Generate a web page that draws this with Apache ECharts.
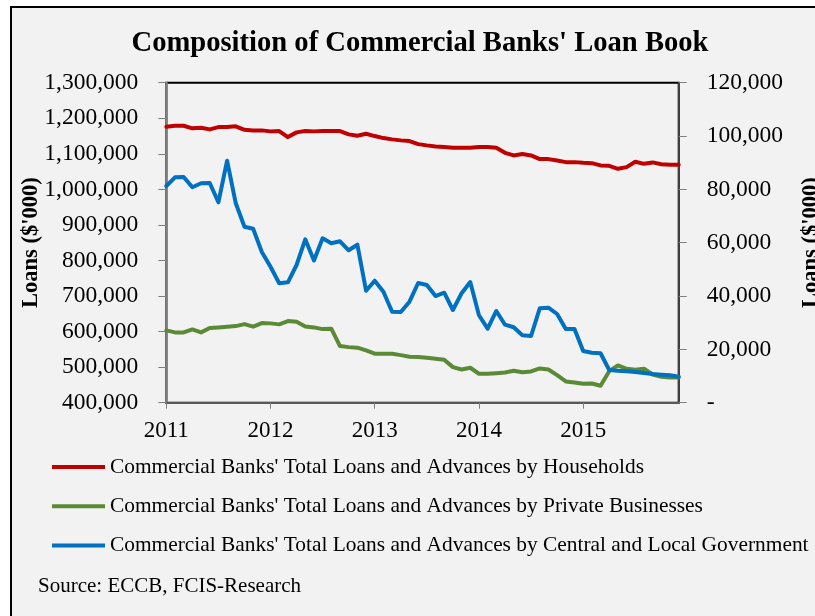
<!DOCTYPE html>
<html>
<head>
<meta charset="utf-8">
<title>Composition of Commercial Banks' Loan Book</title>
<script src="https://cdn.jsdelivr.net/npm/echarts@6/dist/echarts.min.js"></script>
<style>
  html, body { margin: 0; padding: 0; background: #ffffff; }
  #frame {
    position: absolute; left: 10px; top: 6px; width: 805px; height: 610px;
    border-left: 2px solid #000; border-top: 2px solid #000;
    background: #f2f2f2; box-sizing: border-box;
  }
  #chart { position: absolute; left: 0; top: 0; width: 815px; height: 616px; }
</style>
</head>
<body>
<div id="frame"></div>
<div id="chart"></div>
<script>
// Monthly observations, Jan 2011 – Dec 2015
const months = [
  '2011-01','2011-02','2011-03','2011-04','2011-05','2011-06','2011-07','2011-08','2011-09','2011-10','2011-11','2011-12',
  '2012-01','2012-02','2012-03','2012-04','2012-05','2012-06','2012-07','2012-08','2012-09','2012-10','2012-11','2012-12',
  '2013-01','2013-02','2013-03','2013-04','2013-05','2013-06','2013-07','2013-08','2013-09','2013-10','2013-11','2013-12',
  '2014-01','2014-02','2014-03','2014-04','2014-05','2014-06','2014-07','2014-08','2014-09','2014-10','2014-11','2014-12',
  '2015-01','2015-02','2015-03','2015-04','2015-05','2015-06','2015-07','2015-08','2015-09','2015-10','2015-11','2015-12'
];

// Loans to households ($'000, left axis)
const households = [
  1176000,1178900,1178900,1171600,1173200,1168700,1175200,1175200,1177200,1167600,1165900,1165900,
  1163100,1163900,1147000,1160300,1163900,1163100,1163900,1163900,1163900,1154600,1150700,1156300,
  1149900,1144200,1140600,1137800,1135800,1127300,1123700,1120800,1118900,1116900,1116900,1116900,
  1118900,1118900,1116900,1102800,1095500,1099200,1095500,1085100,1085100,1081400,1076600,1076600,
  1074600,1073800,1067300,1066200,1057800,1062500,1077500,1071800,1075800,1070800,1069000,1069000
];

// Loans to private businesses ($'000, left axis)
const privateBusinesses = [
  603400,597700,597700,606200,597700,609900,611800,613800,615500,621100,613800,623900,
  623100,620300,629600,627900,614600,611800,607000,608200,559200,556300,554700,547000,
  537800,537800,537800,533800,529300,528700,526500,523700,520800,500000,493500,498300,
  481400,481400,483100,485100,489900,485900,487900,496300,493500,477500,459700,456900,
  453200,454100,447600,488700,504800,495500,492700,495500,479400,473000,471000,471000
];

// Loans to central and local government ($'000, right axis)
const government = [
  81260,84530,84640,80780,82280,82390,75150,90750,74780,66000,65250,56510,
  51000,44780,45150,51640,61280,53330,61650,59780,60530,57150,59250,42000,
  45750,41630,34130,34010,37880,44890,44140,40010,41250,34760,41030,45260,
  32780,27750,34390,29250,28280,25280,25010,35400,35630,33260,27640,27640,
  19390,18750,18530,12260,12000,11780,11510,11140,10760,10500,10280,9750
];

const seriesNames = [
  "Commercial Banks' Total Loans and Advances by Households",
  "Commercial Banks' Total Loans and Advances by Private Businesses",
  "Commercial Banks' Total Loans and Advances by Central and Local Government"
];
const seriesColors = ['#c00000', '#5a8a35', '#0070c0'];

const leftAxis = { min: 400000, max: 1300000, interval: 100000 };
const rightAxis = { min: 0, max: 120000, interval: 20000 };

const serif = "'Liberation Serif', 'Times New Roman', serif";
const fmt = v => v.toLocaleString('en-US');

const chart = echarts.init(document.getElementById('chart'), null, { renderer: 'canvas' });

chart.setOption({
  backgroundColor: 'transparent',
  animation: false,
  title: {
    text: "Composition of Commercial Banks' Loan Book",
    left: 420, top: 29, padding: 0, textAlign: 'center',
    textStyle: { fontFamily: serif, fontSize: 28.6, fontWeight: 'bold', color: '#000' }
  },
  legend: {
    orient: 'vertical', left: 52, top: 456, padding: 0,
    icon: 'rect', itemWidth: 53, itemHeight: 4, itemGap: 17.3,
    data: seriesNames,
    textStyle: { fontFamily: serif, fontSize: 21.4, color: '#000', lineHeight: 22 }
  },
  graphic: [{
    type: 'text', left: 38, top: 576,
    style: { text: 'Source: ECCB, FCIS-Research', font: '21px ' + serif, fill: '#000' }
  }],
  grid: {
    left: 166.3, right: 136.3, top: 82.7, bottom: 213.3,
    outerBoundsMode: 'none', containLabel: false,
    show: true, borderColor: '#000', borderWidth: 2, backgroundColor: 'transparent'
  },
  xAxis: {
    type: 'category', data: months, boundaryGap: false,
    axisLine: { lineStyle: { color: '#595959', width: 2 } },
    axisTick: { show: true, length: 6, interval: i => i % 12 === 0, lineStyle: { color: '#7f7f7f', width: 1 } },
    axisLabel: {
      interval: i => i % 12 === 0, margin: 17,
      formatter: v => v.slice(0, 4),
      fontFamily: serif, fontSize: 23, color: '#000'
    },
    splitLine: { show: false }
  },
  yAxis: [{
    type: 'value', position: 'left', ...leftAxis,
    name: "Loans ($'000)", nameLocation: 'middle', nameGap: 124, nameRotate: 90,
    nameMoveOverlap: false,
    nameTextStyle: { fontFamily: serif, fontSize: 22.5, fontWeight: 'bold', color: '#000' },
    axisLine: { show: true, lineStyle: { color: '#7f7f7f', width: 2.5 } },
    axisTick: { show: true, length: 8, lineStyle: { color: '#7f7f7f', width: 1 } },
    axisLabel: { margin: 28, formatter: fmt, fontFamily: serif, fontSize: 23.5, color: '#000' },
    splitLine: { show: false }
  }, {
    type: 'value', position: 'right', ...rightAxis,
    name: "Loans ($'000)", nameLocation: 'middle', nameGap: 121, nameRotate: 90,
    nameMoveOverlap: false,
    nameTextStyle: { fontFamily: serif, fontSize: 22.5, fontWeight: 'bold', color: '#000' },
    axisLine: { show: true, lineStyle: { color: '#404040', width: 2 } },
    axisTick: { show: true, length: 8, lineStyle: { color: '#7f7f7f', width: 1 } },
    axisLabel: {
      margin: 28, formatter: v => (v === 0 ? '-' : fmt(v)),
      fontFamily: serif, fontSize: 23.5, color: '#000'
    },
    splitLine: { show: false }
  }],
  series: [
    { name: seriesNames[0], type: 'line', yAxisIndex: 0, data: households },
    { name: seriesNames[1], type: 'line', yAxisIndex: 0, data: privateBusinesses },
    { name: seriesNames[2], type: 'line', yAxisIndex: 1, data: government }
  ].map((s, k) => Object.assign(s, {
    showSymbol: false, symbol: 'none', smooth: false,
    color: seriesColors[k],
    itemStyle: { color: seriesColors[k] },
    lineStyle: { color: seriesColors[k], width: 4, join: 'round', cap: 'round' }
  }))
});
</script>
</body>
</html>
